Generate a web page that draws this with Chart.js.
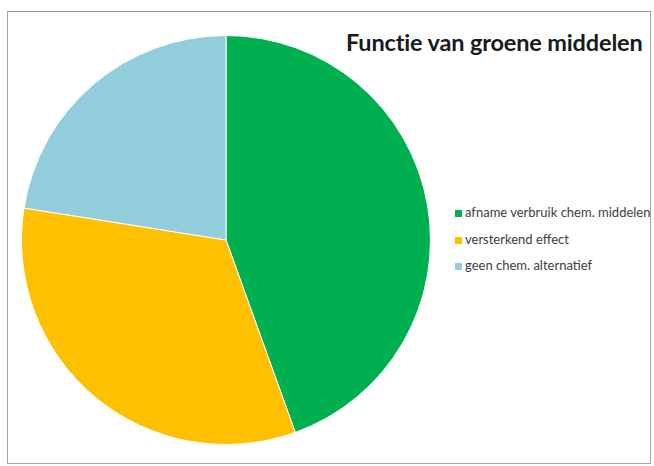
<!DOCTYPE html>
<html>
<head>
<meta charset="utf-8">
<script src="https://cdn.jsdelivr.net/npm/chart.js@4.4.0/dist/chart.umd.min.js"></script>
<style>
  body { margin: 0; background: #fff; font-family: Lato, "Open Sans", sans-serif; }
  .frame { position: absolute; left: 7px; top: 11px; width: 642px; height: 451px; border: 1px solid #a6a6a6; border-top-color: #999; }
  .pieBox { position: absolute; left: 21px; top: 35px; width: 410px; height: 410px; }
  .title { position: absolute; left: 346px; top: 28px; font-size: 23.5px; font-weight: bold; color: #1a1a1a; white-space: nowrap; letter-spacing: -0.15px; }
  .legend { position: absolute; left: 455px; top: 204px; font-size: 13px; color: #404040; }
  .legend div { height: 26.5px; white-space: nowrap; }
  .legend span { display: inline-block; width: 7px; height: 7px; margin-right: 3px; }
</style>
</head>
<body>
<div class="frame"></div>
<div class="title" id="title"></div>
<div class="pieBox"><canvas id="myChart"></canvas></div>
<div class="legend" id="legend"></div>
<script>
const chartTitle = "Functie van groene middelen";
const labels = ["afname verbruik chem. middelen", "versterkend effect", "geen chem. alternatief"];
const values = [44.5, 33, 22.5];
const colors = ["#00b050", "#ffc000", "#92cddc"];

document.getElementById("title").textContent = chartTitle;

const legendEl = document.getElementById("legend");
labels.forEach(function (label, i) {
  const row = document.createElement("div");
  const box = document.createElement("span");
  box.style.background = colors[i];
  row.appendChild(box);
  row.appendChild(document.createTextNode(label));
  legendEl.appendChild(row);
});

const ctx = document.getElementById("myChart");
const myChart = new Chart(ctx, {
  type: "pie",
  data: {
    labels: labels,
    datasets: [
      {
        data: values,
        backgroundColor: colors,
        borderColor: "#ffffff",
        borderWidth: 1,
      },
    ],
  },
  options: {
    responsive: true,
    maintainAspectRatio: false,
    animation: false,
    plugins: {
      legend: { display: false },
      tooltip: { enabled: false },
    },
  },
});
</script>
</body>
</html>
